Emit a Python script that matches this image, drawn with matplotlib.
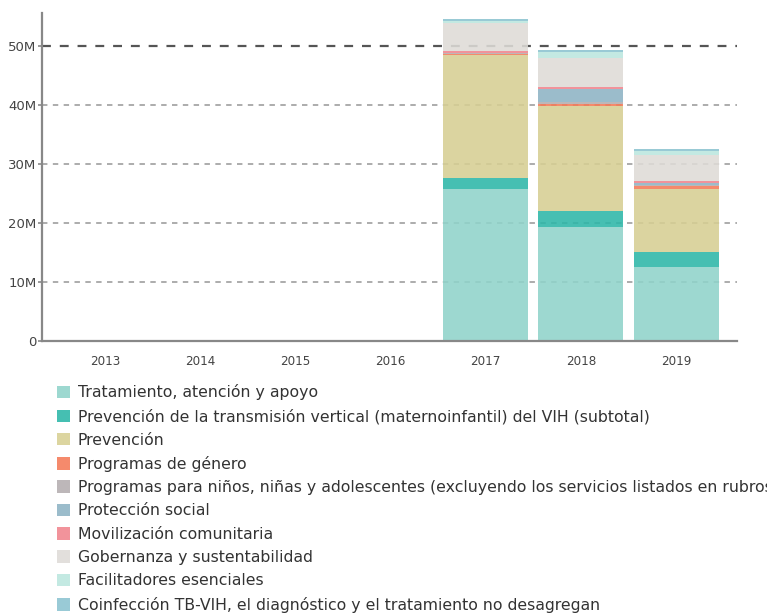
import matplotlib
matplotlib.use("Agg")
import matplotlib.pyplot as plt
from matplotlib.patches import Patch
from matplotlib.colors import to_rgb
import numpy as np

# Funding by category (millions), one list per series
years = ["2013", "2014", "2015", "2016", "2017", "2018", "2019"]

series_names = [
    "Tratamiento, atención y apoyo",
    "Prevención de la transmisión vertical (maternoinfantil) del VIH (subtotal)",
    "Prevención",
    "Programas de género",
    "Programas para niños, niñas y adolescentes (excluyendo los servicios listados en rubros anteriores)",
    "Protección social",
    "Movilización comunitaria",
    "Gobernanza y sustentabilidad",
    "Facilitadores esenciales",
    "Coinfección TB-VIH, el diagnóstico y el tratamiento no desagregan",
]

tratamiento   = [0, 0, 0, 0, 25.70, 19.26, 12.60]
ptv           = [0, 0, 0, 0, 1.96, 2.71, 2.52]
prevencion    = [0, 0, 0, 0, 20.82, 17.83, 10.62]
genero        = [0, 0, 0, 0, 0.20, 0.34, 0.52]
ninos         = [0, 0, 0, 0, 0.05, 0.34, 0.20]
proteccion    = [0, 0, 0, 0, 0.05, 2.20, 0.30]
movilizacion  = [0, 0, 0, 0, 0.30, 0.39, 0.30]
gobernanza    = [0, 0, 0, 0, 4.74, 4.91, 4.50]
facilitadores = [0, 0, 0, 0, 0.34, 0.91, 0.68]
coinfeccion   = [0, 0, 0, 0, 0.39, 0.39, 0.34]

series_values = [tratamiento, ptv, prevencion, genero, ninos, proteccion,
                 movilizacion, gobernanza, facilitadores, coinfeccion]

colors = ["#9dd8d0", "#45bfb2", "#dcd5a0", "#f58a6c", "#bdb7b9",
          "#9bbccb", "#f2939b", "#e2dfdc", "#c3e9e2", "#99cad6"]

ytick_values = [0, 10, 20, 30, 40, 50]
ytick_labels = ["0", "10M", "20M", "30M", "40M", "50M"]

BAR_ALPHA = 0.88


def base_color(c, a=BAR_ALPHA):
    """Colour that, drawn with alpha a over white, shows as c."""
    rgb = np.array(to_rgb(c))
    return tuple(np.clip((rgb - (1 - a)) / a, 0, 1))


fig = plt.figure(figsize=(7.67, 6.15), dpi=100)
ax = fig.add_axes([0.0548, 0.4455, 0.9062, 0.5334])

# gridlines (behind the semi-transparent bars)
for yv in [10, 20, 30, 40]:
    ax.axhline(yv, color="#a6a6a6", lw=1.3, ls=(0, (3, 3)), zorder=1)
ax.axhline(50, color="#555555", lw=1.6, ls=(0, (4, 4)), zorder=1)

x = np.arange(len(years))
bottom = np.zeros(len(years))
for vals, col in zip(series_values, colors):
    v = np.array(vals, dtype=float)
    ax.bar(x, v, bottom=bottom, width=0.893, color=base_color(col),
           alpha=BAR_ALPHA, zorder=2, linewidth=0)
    bottom += v

ax.set_xlim(-0.662, 6.641)
ax.set_ylim(0, 55.55)
ax.set_xticks(x)
ax.set_xticklabels(years, fontsize=9.5, color="#444444", fontstretch="condensed")
ax.set_yticks(ytick_values)
ax.set_yticklabels(ytick_labels, fontsize=9.5, color="#444444")
ax.tick_params(axis="x", length=0, pad=10)
ax.tick_params(axis="y", length=3, width=1.2, color="#888888", pad=1)

for s in ["top", "right"]:
    ax.spines[s].set_visible(False)
ax.spines["left"].set_color("#888888")
ax.spines["left"].set_linewidth(1.6)
ax.spines["bottom"].set_color("#888888")
ax.spines["bottom"].set_linewidth(1.6)

handles = [Patch(facecolor=c, edgecolor="none") for c in colors]
fig.legend(handles, series_names, loc="upper left", bbox_to_anchor=(0.074, 0.375),
           frameon=False, fontsize=11.3, handlelength=0.85, handleheight=0.85,
           labelspacing=0.53, handletextpad=0.5, borderpad=0, borderaxespad=0,
           labelcolor="#333333")

fig.savefig("out.png", dpi=100)
